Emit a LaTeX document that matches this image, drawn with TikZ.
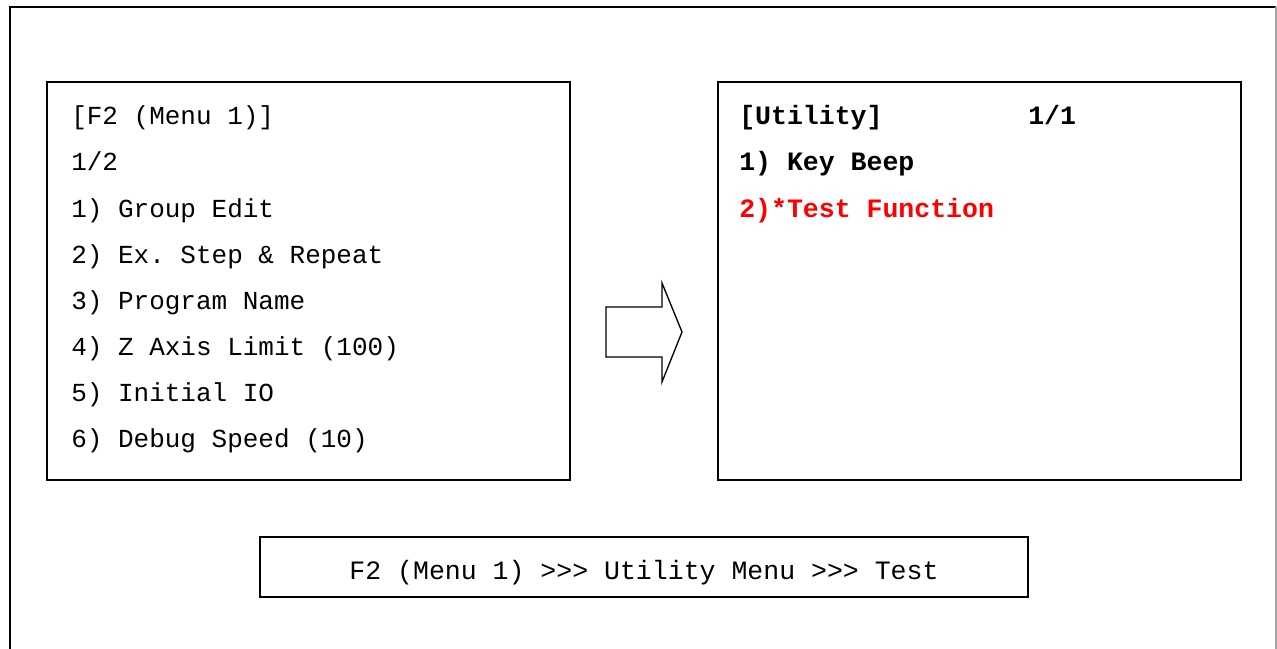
\documentclass[tikz,border=0pt]{standalone}
\usepackage{fontspec}
\setmonofont{Liberation Mono}
\definecolor{menured}{HTML}{FF0000}
\begin{document}
\begin{tikzpicture}[x=0.75pt,y=-0.75pt,
  frame/.style={draw=black,line width=1.1pt},
  box/.style={draw=black,line width=1.1pt},
  mline/.style={anchor=base west,inner sep=0pt,font=\fontsize{19.5}{22}\ttfamily},
  bline/.style={anchor=base west,inner sep=0pt,font=\fontsize{19.9}{22}\ttfamily\bfseries},
  rline/.style={bline,text=menured}]
\useasboundingbox (0,0) rectangle (1277,649);
% outer frame (open at the bottom)
\draw[frame] (10,649) -- (10,7) -- (1276,7);
\draw[draw=gray!70,line width=0.8pt] (1276,7) -- (1276,649);
% left menu box
\draw[box] (47,82) rectangle (570,480);
\node[mline] (l1) at (71,125) {[F2 (Menu 1)]};
\node[mline] (l2) at (71,171) {1/2};
\node[mline] (l3) at (71,217) {1) Group Edit};
\node[mline] (l4) at (71,263) {2) Ex. Step \& Repeat};
\node[mline] (l5) at (71,309) {3) Program Name};
\node[mline] (l6) at (71,355) {4) Z Axis Limit (100)};
\node[mline] (l7) at (71,401) {5) Initial IO};
\node[mline] (l8) at (71,447) {6) Debug Speed (10)};
% right menu box
\draw[box] (718,82) rectangle (1241,480);
\node[bline] (r1) at (739,125) {[Utility]};
\node[bline] (r1b) at (1028,125) {1/1};
\node[bline] (r2) at (739,171) {1) Key Beep};
\node[rline] (r3) at (739,217) {2)*Test Function};
% block arrow
\draw[box,line width=1pt,line join=miter] (606,307) -- (662,307) -- (662,283) -- (682,332) -- (662,382) -- (662,357) -- (606,357) -- cycle;
% bottom path box
\draw[box] (260,537) rectangle (1028,597);
\node[anchor=base,inner sep=0pt,font=\fontsize{19.9}{22}\ttfamily] (path) at (644,579) {F2 (Menu 1) >{}>{}> Utility Menu >{}>{}> Test};
\end{tikzpicture}
\end{document}
